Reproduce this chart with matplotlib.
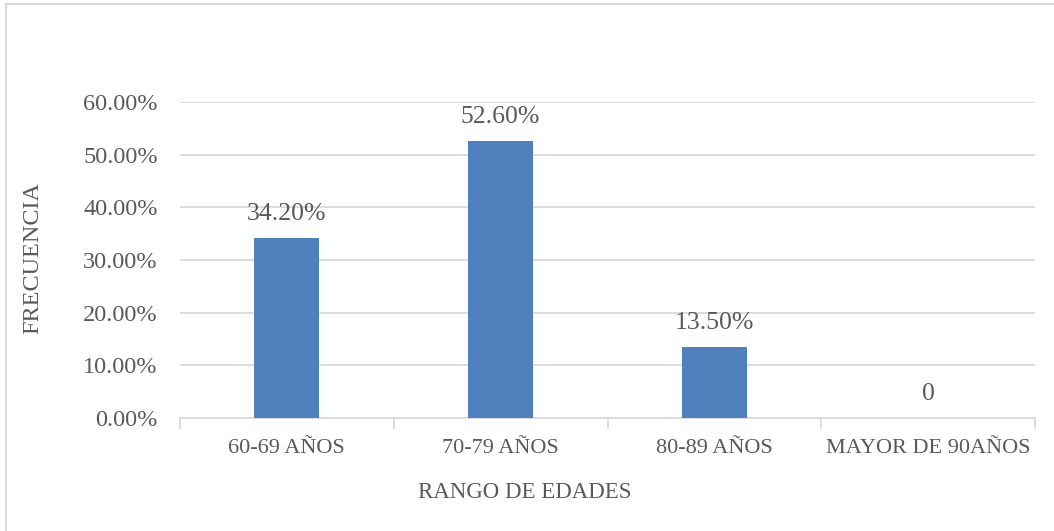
import matplotlib
matplotlib.use("Agg")
import matplotlib.pyplot as plt
from matplotlib.ticker import FuncFormatter
from matplotlib.lines import Line2D

categories = ["60-69 AÑOS", "70-79 AÑOS", "80-89 AÑOS", "MAYOR DE 90AÑOS"]
values = [0.342, 0.526, 0.135, 0.0]
labels = ["34.20%", "52.60%", "13.50%", "0"]
yticks = [0.0, 0.1, 0.2, 0.3, 0.4, 0.5, 0.6]

W, H = 1054, 531
fig = plt.figure(figsize=(W / 100, H / 100), dpi=100)
plt.rcParams['font.family'] = ['Liberation Serif', 'DejaVu Serif']
txt = '#595959'
grid = '#D9D9D9'

ax = fig.add_axes([180 / W, (H - 418) / H, (1035 - 180) / W, (418 - 102) / H])
x = list(range(len(categories)))
ax.bar(x, values, width=0.305, color='#4F81BD', zorder=3)
ax.set_xlim(-0.5, len(categories) - 0.5)
ax.set_ylim(0, 0.6)
ax.set_yticks(yticks)
ax.yaxis.set_major_formatter(FuncFormatter(lambda v, p: f"{v*100:.2f}%"))
ax.grid(axis='y', color=grid, linewidth=1.3, zorder=0)
for s in ['top', 'right', 'left']:
    ax.spines[s].set_visible(False)
ax.spines['bottom'].set_color(grid)
ax.spines['bottom'].set_linewidth(1.3)
ax.tick_params(axis='y', length=0, labelsize=17.5, labelcolor=txt, pad=16)
ax.set_xticks(x)
ax.set_xticklabels(categories)
ax.tick_params(axis='x', length=0, labelsize=16, labelcolor=txt, pad=15)
# category boundary ticks
ax.set_xticks([i - 0.5 for i in range(len(categories) + 1)], minor=True)
ax.tick_params(axis='x', which='minor', length=8, color=grid, width=1.3)

for xi, v, lab in zip(x, values, labels):
    ax.annotate(lab, (xi, v), xytext=(0, 17), textcoords='offset points',
                ha='center', va='center', fontsize=18.5, color=txt)

fig.text(525 / W, 1 - 493 / H, "RANGO DE EDADES", ha='center', va='center',
         fontsize=16.5, color=txt)
fig.text(33 / W, 1 - 258 / H, "FRECUENCIA", ha='center', va='center',
         rotation=90, fontsize=17.5, color=txt)

# chart border (top and left)
fig.add_artist(Line2D([6 / W, 6 / W], [0, 1 - 4 / H], transform=fig.transFigure,
                      color='#D9D9D9', linewidth=1.5))
fig.add_artist(Line2D([6 / W, 1], [1 - 4 / H, 1 - 4 / H], transform=fig.transFigure,
                      color='#D9D9D9', linewidth=1.5))

fig.savefig("out.png", dpi=100)
